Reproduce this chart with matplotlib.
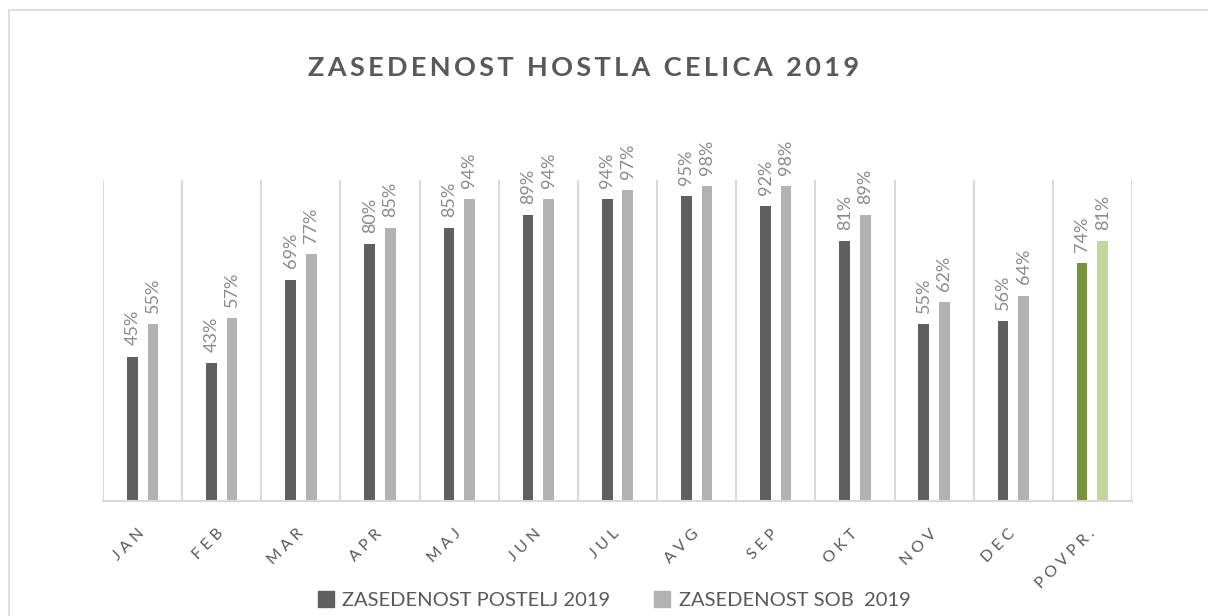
import numpy as np
import matplotlib.pyplot as plt
from matplotlib.patches import Rectangle, Patch

months = ["JAN", "FEB", "MAR", "APR", "MAJ", "JUN", "JUL", "AVG", "SEP", "OKT", "NOV", "DEC", "POVPR."]
postelj = [45, 43, 69, 80, 85, 89, 94, 95, 92, 81, 55, 56, 74]
sob = [55, 57, 77, 85, 94, 94, 97, 98, 98, 89, 62, 64, 81]

plt.rcParams['font.family'] = ['Lato', 'DejaVu Sans']

DARK = '#5f5f5f'
LIGHT = '#b2b2b2'
col_p = [DARK] * 12 + ['#77933c']
col_s = [LIGHT] * 12 + ['#c3d69b']
TXT = '#595959'
GRID = '#d9d9d9'

def spaced(s, sep='\u2009'):
    return sep.join(s)

fig = plt.figure(figsize=(12.08, 6.16), dpi=100)
fig.patches.append(Rectangle((9 / 1208, -0.1), 1.2, 1 - 10 / 616 + 0.1,
                             transform=fig.transFigure, fill=False,
                             edgecolor=GRID, linewidth=1.2))

ax = fig.add_axes([103 / 1208, 1 - 501 / 616, (1132 - 103) / 1208, (501 - 180) / 616])
x = np.arange(len(months))
w = 0.135
off = 0.13
bp = ax.bar(x - off, postelj, width=w, color=col_p)
bs = ax.bar(x + off, sob, width=w, color=col_s)

for bars, vals in ((bp, postelj), (bs, sob)):
    for b, v in zip(bars, vals):
        ax.annotate(f"{v}%", (b.get_x() + b.get_width() / 2, v),
                    xytext=(0, 8), textcoords='offset points',
                    rotation=90, ha='center', va='bottom',
                    fontsize=13, color='#8a8a8a')

ax.set_xlim(-0.5, len(months) - 0.5)
ax.set_ylim(0, 100)
ax.set_yticks([])
ax.set_xticks(x)
ax.set_xticklabels([spaced(m, ' ') for m in months], fontsize=11.5, color=TXT)
plt.setp(ax.get_xticklabels(), rotation=45, ha='right', va='center', rotation_mode='anchor')
ax.tick_params(axis='x', length=0, pad=22)
ax.set_xticks(np.arange(-0.5, len(months)), minor=True)
ax.tick_params(axis='x', which='minor', length=0)
ax.grid(True, axis='x', which='minor', color=GRID, linewidth=1.5)
ax.grid(False, axis='x', which='major')
for s in ['top', 'left', 'right']:
    ax.spines[s].set_visible(False)
ax.spines['bottom'].set_color(GRID)
ax.spines['bottom'].set_linewidth(1.5)

fig.text(584 / 1208, 1 - 68 / 616, spaced("ZASEDENOST HOSTLA CELICA 2019"),
         ha='center', va='center', fontsize=19.5, fontweight='bold', color=TXT)

handles = [Patch(color=DARK), Patch(color=LIGHT)]
fig.legend(handles, ["ZASEDENOST POSTELJ 2019", "ZASEDENOST SOB  2019"],
           loc='center', bbox_to_anchor=(614 / 1208, 1 - 600 / 616), ncol=2,
           frameon=False, fontsize=14.5, labelcolor=TXT, handlelength=0.8,
           handleheight=0.8, handletextpad=0.4, columnspacing=2.2)

fig.savefig('out.png', dpi=100)
